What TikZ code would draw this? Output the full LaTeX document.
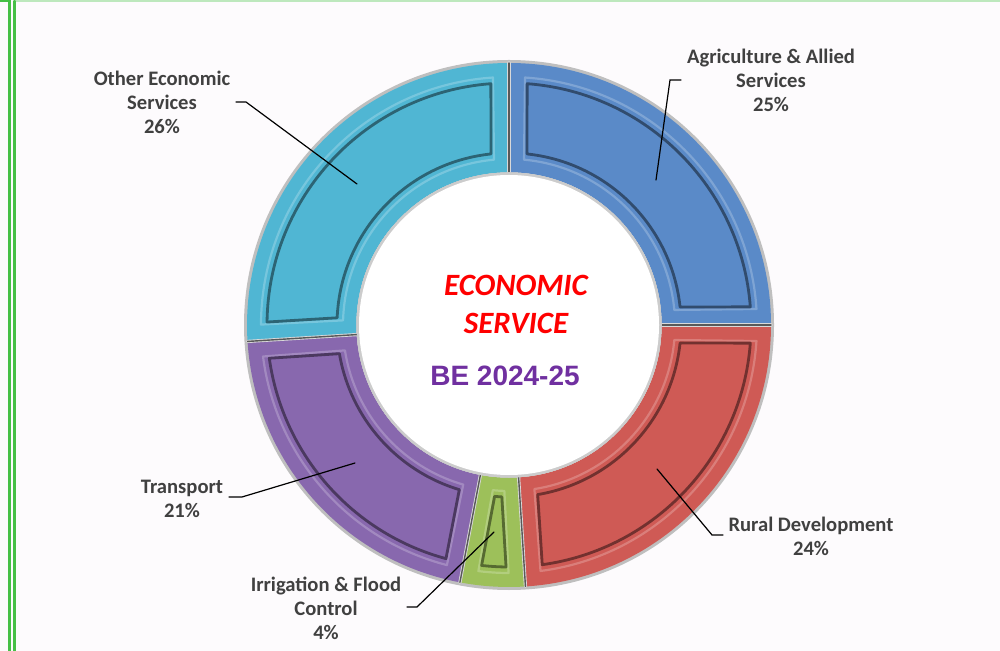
\documentclass[tikz,border=0pt]{standalone}
\usepackage{fontspec}
\setmainfont{Carlito}
\newfontfamily\arialfont{Liberation Sans}
\usetikzlibrary{positioning}
\definecolor{agriblue}{HTML}{5A8AC8}
\definecolor{ruralred}{HTML}{CF5A55}
\definecolor{irrigreen}{HTML}{9DC05A}
\definecolor{transpurple}{HTML}{8868AE}
\definecolor{othercyan}{HTML}{50B6D3}
\definecolor{labelgray}{HTML}{404040}
\definecolor{bepurple}{HTML}{7030A0}
\definecolor{framegreen}{HTML}{46C046}
\definecolor{framelight}{HTML}{BDE8BD}
\definecolor{pagebg}{HTML}{FDFBFD}

% one ring part: start angle, end angle, colour (angles run clockwise, y points down)
\newcommand\ringpart[3]{%
  \pgfmathsetmacro\pa{#1+6}\pgfmathsetmacro\pb{#2-6}%
  \pgfmathsetmacro\pc{#1+4.3}\pgfmathsetmacro\pd{#2-4.3}%
  \pgfmathsetmacro\pe{#1+5.2}\pgfmathsetmacro\pf{#2-5.2}%
  \pgfmathsetmacro\pg{#1+3.7}\pgfmathsetmacro\ph{#2-3.7}%
  \fill[#3] (#1:152) arc[start angle=#1,end angle=#2,radius=152]
    -- (#2:262) arc[start angle=#2,end angle=#1,radius=262] -- cycle;
  \draw[#3!78!white,line width=1.1pt,line join=round] (\pe:166) arc[start angle=\pe,end angle=\pf,radius=166]
    -- (\ph:248) arc[start angle=\ph,end angle=\pg,radius=248] -- cycle;
  \draw[#3!55!black,line width=1.4pt,line join=round] (\pa:172) arc[start angle=\pa,end angle=\pb,radius=172]
    -- (\pd:242) arc[start angle=\pd,end angle=\pc,radius=242] -- cycle;
}
% gap between two ring parts
\newcommand\ringgap[1]{%
  \draw[black!15,line width=1.6pt] (#1:152) -- (#1:262);
  \draw[black!65,line width=0.7pt] (#1:152) -- (#1:262);
}

\tikzset{
  lbl/.style={align=center,text=labelgray,font=\bfseries\fontsize{10.3}{12}\selectfont,inner sep=0pt},
  leader/.style={black,line width=0.6pt},
  hubtitle/.style={text=red,font=\bfseries\itshape\fontsize{15.5}{18}\selectfont,inner sep=0pt},
  hubyear/.style={text=bepurple,font=\arialfont\bfseries\fontsize{14}{16}\selectfont,inner sep=0pt}
}

\begin{document}
\begin{tikzpicture}[x=0.5pt,y=-0.5pt,line cap=round]
\fill[pagebg] (0,0) rectangle (1000,651);
\useasboundingbox (0,0) rectangle (1000,651);
% frame
\draw[framelight,line width=1.2pt] (14.5,1) -- (1000,1);
\draw[framegreen,line width=1.1pt] (0,1) -- (9.5,1) -- (9.5,651);
\draw[framegreen,line width=1.1pt] (14.5,1) -- (14.5,651);

% ring
\begin{scope}[shift={(509,325)}]
  \fill[black!25] (0,0) circle[radius=265];
  \ringpart{-90}{0}{agriblue}
  \ringpart{0}{86.4}{ruralred}
  \ringpart{86.4}{100.8}{irrigreen}
  \ringpart{100.8}{176.4}{transpurple}
  \ringpart{176.4}{270}{othercyan}
  \foreach \g in {-90,0,86.4,100.8,176.4} \ringgap{\g}
  \draw[black!20,line width=1.5pt] (0,0) circle[radius=151];
  \fill[white] (0,0) circle[radius=150];
\end{scope}

% centre text
\node[hubtitle] (hubA) at (516,285) {ECONOMIC};
\node[hubtitle] (hubB) at (516,323) {SERVICE};
\node[hubyear] (hubyr) at (505,376) {BE 2024-25};

% labels
\node[lbl] (agrilbl) at (771,80) {Agriculture \& Allied\\Services\\25\%};
\node[lbl] (rurallbl) at (811,536) {Rural Development\\24\%};
\node[lbl] (irrilbl) at (326,608) {Irrigation \& Flood\\Control\\4\%};
\node[lbl] (translbl) at (182,499) {Transport\\21\%};
\node[lbl] (othlbl) at (162,102) {Other Economic\\Services\\26\%};

% leader lines
\coordinate (agri-a) at (681,80);   \coordinate (agri-b) at (656,180);
\coordinate (rural-a) at (723,535); \coordinate (rural-b) at (657,469);
\coordinate (irri-a) at (407,607);  \coordinate (irri-b) at (494,532);
\coordinate (trans-a) at (229,497); \coordinate (trans-b) at (355,463);
\coordinate (oth-a) at (236,102);   \coordinate (oth-b) at (357,184);
\draw[leader] (agri-a) -- ++(-11,0) -- (agri-b);
\draw[leader] (rural-a) -- ++(-11,0) -- (rural-b);
\draw[leader] (irri-a) -- ++(10,0) -- (irri-b);
\draw[leader] (trans-a) -- ++(13,0) -- (trans-b);
\draw[leader] (oth-a) -- ++(10,0) -- (oth-b);
\end{tikzpicture}
\end{document}
